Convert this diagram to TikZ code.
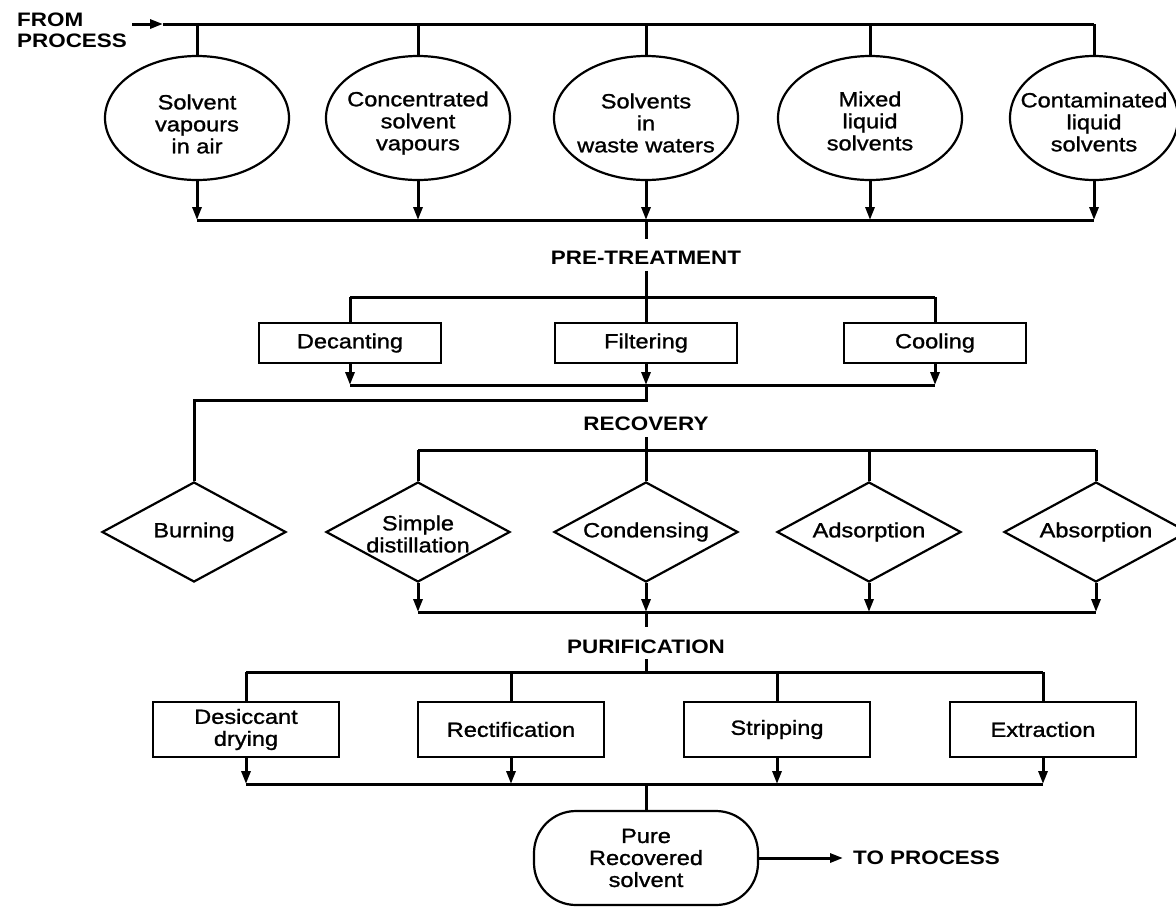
\documentclass[tikz,border=0pt]{standalone}
\usepackage{fontspec}
\setmainfont{Liberation Sans}[FakeStretch=1.15]
\newfontfamily\nodefont{Liberation Sans}[FakeStretch=1.15, FakeBold=1.2]
\usetikzlibrary{arrows.meta,shapes.geometric}

\begin{document}
\begin{tikzpicture}[x=1pt,y=-1pt,
  every node/.style={font=\nodefont\fontsize{20.5}{22}\selectfont, align=center, inner sep=0pt},
  src/.style={draw, ellipse, line width=2.2pt, minimum width=184pt, minimum height=124pt},
  opbox/.style={draw, rectangle, line width=2.4pt, minimum width=184pt},
  recov/.style={draw, diamond, aspect=1.84, line width=2.2pt, minimum width=184pt, minimum height=100pt},
  term/.style={draw, rectangle, rounded corners=42pt, line width=2.2pt, minimum width=224pt, minimum height=94pt},
  heading/.style={font=\rmfamily\fontsize{19.5}{21}\selectfont\bfseries},
  flow/.style={line width=3pt},
  feed/.style={flow, -{Triangle[length=13pt,width=9pt]}},
]
\useasboundingbox (0,0) rectangle (1176,906);

% ---------- sources ----------
\node[heading, anchor=north west, align=left] (from) at (17,13) {FROM\\PROCESS};
\coordinate (in) at (132,24);
\coordinate (inarrow) at (163,24);
\coordinate (b1) at (646,24);

\node[src, label={[yshift=-6pt]center:Solvent\\vapours\\in air}] (s1) at (197,118) {};
\node[src, label={[yshift=-5pt]center:Concentrated\\solvent\\vapours}] (s2) at (418,118) {};
\node[src, label={[yshift=-5pt]center:Solvents\\in\\waste waters}] (s3) at (646,118) {};
\node[src, label={[yshift=-3pt]center:Mixed\\liquid\\solvents}] (s4) at (870,118) {};
\node[src, minimum width=168pt, label={[yshift=-4pt]center:Contaminated\\liquid\\solvents}] (s5) at (1094,118) {};

\draw[feed] (in) -- (inarrow);
\draw[flow] (inarrow) -- (s5.north |- b1);
\foreach \n in {s1,s2,s3,s4,s5}
  \draw[flow] (\n.north |- b1) -- (\n.north);

\coordinate (b2) at (646,220);
\draw[flow] (s1.south |- b2) -- (s5.south |- b2);
\foreach \n in {s1,s2,s3,s4,s5}
  \draw[feed] (\n.south) -- (\n.south |- b2);

% ---------- pre-treatment ----------
\node[heading] (pre) at (646,258) {PRE-TREATMENT};
\draw[flow] (b2) -- ([yshift=12pt]pre.north);

\coordinate (b3) at (646,297);
\node[opbox, minimum width=182pt, minimum height=40pt] (p1) at (350,343) {Decanting};
\node[opbox, minimum width=182pt, minimum height=40pt] (p2) at (646,343) {Filtering};
\node[opbox, minimum width=182pt, minimum height=40pt] (p3) at (935,343) {Cooling};

\draw[flow] ([yshift=-6pt]pre.south) -- (b3);
\draw[flow] (p1.north |- b3) -- (p3.north |- b3);
\foreach \n in {p1,p2,p3}
  \draw[flow] (\n.north |- b3) -- (\n.north);

\coordinate (b4) at (646,385);
\draw[flow] (p1.south |- b4) -- (p3.south |- b4);
\foreach \n in {p1,p2,p3}
  \draw[feed] (\n.south) -- (\n.south |- b4);

% ---------- recovery ----------
\node[recov, label={center:Burning}] (r1) at (194,532) {};
\node[recov, label={[yshift=-2pt]center:Simple\\distillation}] (r2) at (418,532) {};
\node[recov, label={center:Condensing}] (r3) at (646,532) {};
\node[recov, label={center:Adsorption}] (r4) at (869,532) {};
\node[recov, label={center:Absorption}] (r5) at (1096,532) {};

\coordinate (split) at (646,400);
\draw[flow] (b4) -- (split) -- (split -| r1.north) -- (r1.north);

\node[heading] (rec) at (646,424) {RECOVERY};
\coordinate (b5) at (646,450);
\draw[flow] ([yshift=-6pt]rec.south) -- (b5);
\draw[flow] (r2.north |- b5) -- (r5.north |- b5);
\foreach \n in {r2,r3,r4,r5}
  \draw[flow] (\n.north |- b5) -- (\n.north);

\coordinate (b6) at (646,612);
\draw[flow] (r2.south |- b6) -- (r5.south |- b6);
\foreach \n in {r2,r3,r4,r5}
  \draw[feed] (\n.south) -- (\n.south |- b6);

% ---------- purification ----------
\node[heading] (pur) at (646,647) {PURIFICATION};
\draw[flow] (b6) -- ([yshift=13pt]pur.north);

\coordinate (b7) at (646,672);
\draw[flow] ([yshift=-5pt]pur.south) -- (b7);

\node[opbox, minimum width=186pt, minimum height=55pt] (q1) at (246,729.5) {Desiccant\\drying};
\node[opbox, minimum width=186pt, minimum height=55pt] (q2) at (511,729.5) {Rectification};
\node[opbox, minimum width=186pt, minimum height=55pt] (q3) at (777,729.5) {Stripping};
\node[opbox, minimum width=186pt, minimum height=55pt] (q4) at (1043,729.5) {Extraction};

\draw[flow] (q1.north |- b7) -- (q4.north |- b7);
\foreach \n in {q1,q2,q3,q4}
  \draw[flow] (\n.north |- b7) -- (\n.north);

\coordinate (b8) at (646,784);
\draw[flow] (q1.south |- b8) -- (q4.south |- b8);
\foreach \n in {q1,q2,q3,q4}
  \draw[feed] (\n.south) -- (\n.south |- b8);

% ---------- product ----------
\node[term] (out) at (646,858) {Pure\\Recovered\\solvent};
\draw[flow] (b8) -- (out.north);

\node[heading, anchor=west] (toproc) at (853,858) {TO PROCESS};
\draw[feed] (out.east) -- ([xshift=-10pt]out.east -| toproc.west);

\end{tikzpicture}
\end{document}
